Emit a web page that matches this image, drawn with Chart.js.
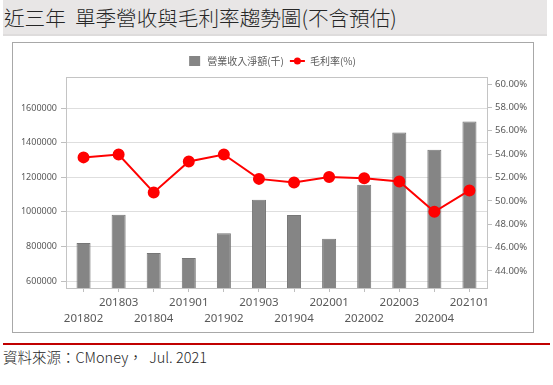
<!DOCTYPE html>
<html>
<head>
<meta charset="utf-8">
<script src="https://cdn.jsdelivr.net/npm/chart.js@4"></script>
<style>
  html, body { margin:0; padding:0; background:#fff; width:553px; height:385px; overflow:hidden; }
  #title { position:absolute; left:3px; top:0; width:544px; height:34px; background:#e8e6e6; border-bottom:2px solid #dedcdc; }
  #title span { position:absolute; left:1px; top:4px; font-family:"Noto Sans CJK TC", sans-serif; font-weight:300; font-size:20.6px; line-height:26px; color:#262626; white-space:pre; }
  #box { position:absolute; left:12px; top:42px; width:520px; height:289px; border:1px solid #a8a8a8; }
  #redline { position:absolute; left:3px; top:343px; width:547px; height:2px; background:#c00000; }
  #footer { position:absolute; left:3px; top:347px; font-family:"Noto Sans CJK TC", sans-serif; font-weight:300; font-size:14.5px; line-height:20px; color:#262626; white-space:pre; }
  #c { position:absolute; left:0; top:0; }
</style>
</head>
<body>
<div id="title"><span>近三年  單季營收與毛利率趨勢圖(不含預估)</span></div>
<div id="box"></div>
<div id="redline"></div>
<div id="footer">資料來源：CMoney，  Jul. 2021</div>
<canvas id="c" width="553" height="385"></canvas>
<script>
const categories = ['201802','201803','201804','201901','201902','201903','201904','202001','202002','202003','202004','202101'];
const revenue = [820000, 983000, 762000, 733000, 877000, 1070000, 982000, 845000, 1157000, 1459000, 1359000, 1523000];
const grossMargin = [53.72, 53.97, 50.72, 53.37, 53.97, 51.88, 51.57, 52.05, 51.94, 51.66, 49.06, 50.89];
const leftTicks = [600000, 800000, 1000000, 1200000, 1400000, 1600000];
const rightTicks = [44, 46, 48, 50, 52, 54, 56, 58, 60];
const seriesNames = ['營業收入淨額(千)', '毛利率(%)'];

const tickFont = 'Noto Sans';
const labelColor = '#595959';

const customLegend = {
  id: 'customLegend',
  afterDraw(chart) {
    const ctx = chart.ctx;
    ctx.save();
    ctx.font = '10px "Noto Sans CJK TC"';
    const w1 = ctx.measureText(seriesNames[0]).width;
    const w2 = ctx.measureText(seriesNames[1]).width;
    const sq = 11, gap = 7, between = 6, lineW = 15;
    const total = sq + gap + w1 + between + lineW + gap - 2 + w2;
    let x = 272.5 - total / 2;
    const y = 61;
    ctx.fillStyle = '#858585';
    ctx.fillRect(x, y - 5, sq, 10);
    x += sq + gap;
    ctx.fillStyle = labelColor;
    ctx.textBaseline = 'middle';
    ctx.fillText(seriesNames[0], x, y);
    x += w1 + between;
    ctx.strokeStyle = '#ff0000';
    ctx.lineWidth = 2;
    ctx.beginPath(); ctx.moveTo(x, y); ctx.lineTo(x + lineW, y); ctx.stroke();
    ctx.fillStyle = '#ff0000';
    ctx.beginPath(); ctx.arc(x + lineW / 2, y, 3.5, 0, Math.PI * 2); ctx.fill();
    x += lineW + gap - 2;
    ctx.fillStyle = labelColor;
    ctx.fillText(seriesNames[1], x, y);
    ctx.restore();
  }
};

const plotBorder = {
  id: 'plotBorder',
  beforeDatasetsDraw(chart) {
    const a = chart.chartArea, ctx = chart.ctx;
    ctx.save();
    ctx.strokeStyle = '#c4c4c4';
    ctx.lineWidth = 1;
    ctx.strokeRect(Math.round(a.left) + 0.5, Math.round(a.top) + 0.5, Math.round(a.right - a.left), Math.round(a.bottom - a.top));
    ctx.restore();
  }
};

new Chart(document.getElementById('c'), {
  data: {
    labels: categories,
    datasets: [
      {
        type: 'line', label: seriesNames[1], data: grossMargin, yAxisID: 'y1', order: 0,
        borderColor: '#ff0000', backgroundColor: '#ff0000', borderWidth: 2,
        pointRadius: 5, pointBackgroundColor: '#ff0000', pointBorderColor: '#ff0000', tension: 0
      },
      {
        type: 'bar', label: seriesNames[0], data: revenue, yAxisID: 'y', order: 1,
        backgroundColor: '#858585', borderColor: '#767676', borderWidth: 1,
        barPercentage: 0.4, categoryPercentage: 1.0
      }
    ]
  },
  options: {
    responsive: false, animation: false, devicePixelRatio: 1,
    layout: { padding: { top: 77, left: 0, right: 0, bottom: 0 } },
    plugins: { legend: { display: false }, tooltip: { enabled: false } },
    scales: {
      x: {
        offset: true,
        grid: { display: true, drawOnChartArea: false, offset: false, tickLength: 4, tickColor: '#bfbfbf' },
        border: { display: true, color: '#c4c4c4' },
        ticks: {
          autoSkip: false, maxRotation: 0, minRotation: 0, padding: 3,
          color: labelColor, font: { family: tickFont, size: 11.5, lineHeight: 1.39 },
          callback: function(v, i) { const l = categories[i]; return i % 2 === 0 ? ['', l] : [l, '']; }
        },
        afterFit(s) { s.height = 97; }
      },
      y: {
        position: 'left', min: 560000, max: 1780000,
        grid: { color: '#dedede', tickLength: 5, tickColor: '#bfbfbf' },
        border: { display: true, color: '#c4c4c4' },
        ticks: { padding: 4, color: labelColor, font: { family: tickFont, size: 9 }, callback: v => String(v) },
        afterBuildTicks(s) { s.ticks = leftTicks.map(v => ({ value: v })); },
        afterFit(s) { s.width = 66; }
      },
      y1: {
        position: 'right', min: 42.54, max: 60.6,
        grid: { drawOnChartArea: false, tickLength: 5, tickColor: '#bfbfbf' },
        border: { display: true, color: '#c4c4c4' },
        ticks: { padding: 3, color: labelColor, font: { family: tickFont, size: 9.5 }, callback: v => v.toFixed(2) + '%' },
        afterBuildTicks(s) { s.ticks = rightTicks.map(v => ({ value: v })); },
        afterFit(s) { s.width = 66; }
      }
    }
  },
  plugins: [customLegend, plotBorder]
});
</script>
</body>
</html>
